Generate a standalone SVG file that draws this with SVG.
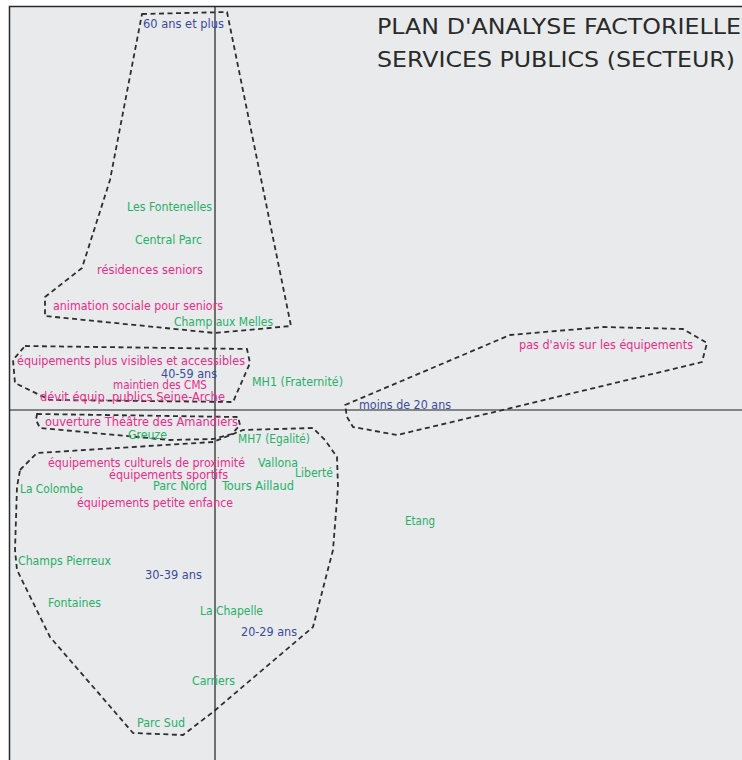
<svg xmlns="http://www.w3.org/2000/svg" width="742" height="760" viewBox="0 0 742 760">
  <style>
    .lbl { font-family: "DejaVu Sans Condensed", "DejaVu Sans", "Liberation Sans", sans-serif; font-size: 11.5px; }
    .g { fill: #27b066; }
    .p { fill: #ea2c8a; }
    .b { fill: #3b4c9e; }
    .title { font-family: "DejaVu Sans", "Liberation Sans", sans-serif; font-size: 22px; fill: #2a2a2a; }
    .zone { fill: none; stroke: #2e2e2e; stroke-width: 1.8; stroke-dasharray: 5 3.5; stroke-linejoin: round; }
    .axis { stroke: #1e1e1e; stroke-width: 1.2; }
  </style>

  <!-- page and frame -->
  <rect x="0" y="0" width="742" height="760" fill="#ffffff"/>
  <rect x="9" y="6" width="740" height="760" fill="#e8eaec"/>
  <path d="M9.5 760 V6.5 H742" fill="none" stroke="#2a2a2a" stroke-width="1.5"/>

  <!-- factorial axes -->
  <g id="axes">
    <line class="axis" x1="215" y1="6" x2="215" y2="760"/>
    <line class="axis" x1="9" y1="410" x2="742" y2="410"/>
  </g>

  <!-- title -->
  <g id="title">
    <text class="title" x="377" y="34" textLength="364" lengthAdjust="spacingAndGlyphs">PLAN D'ANALYSE FACTORIELLE</text>
    <text class="title" x="377" y="67" textLength="358" lengthAdjust="spacingAndGlyphs">SERVICES PUBLICS (SECTEUR)</text>
  </g>

  <!-- dashed groupings -->
  <g id="connectors">
    <polygon id="zone-seniors" class="zone" points="142,14 227,12 291,326 215,333 45,316 45,297 82,268 110,180"/>
    <polygon id="zone-visibles" class="zone" points="25,346 247,349 250,363 233,402 50,400 15,383 13,360"/>
    <polygon id="zone-theatre" class="zone" points="37,414 238,417 240,425 232,434 213,439 170,440 40,428 36,420"/>
    <polygon id="zone-adultes" class="zone" points="20,470 37,453 213,442 243,430 313,428 325,440 337,457 338,487 333,550 313,627 213,712 183,735 133,733 50,637 17,570 15,550 17,487"/>
    <polygon id="zone-jeunes" class="zone" points="345,405 510,335 603,327 683,329 707,343 702,362 507,409 397,435 353,427 347,417"/>
  </g>

  <!-- age classes -->
  <g id="n-60plus"><text class="lbl b" x="143" y="28" textLength="81" lengthAdjust="spacingAndGlyphs">60 ans et plus</text></g>
  <g id="n-4059"><text class="lbl b" x="161" y="378" textLength="56" lengthAdjust="spacingAndGlyphs">40-59 ans</text></g>
  <g id="n-moins20"><text class="lbl b" x="359" y="409" textLength="92" lengthAdjust="spacingAndGlyphs">moins de 20 ans</text></g>
  <g id="n-3039"><text class="lbl b" x="145" y="579" textLength="57" lengthAdjust="spacingAndGlyphs">30-39 ans</text></g>
  <g id="n-2029"><text class="lbl b" x="241" y="636" textLength="56" lengthAdjust="spacingAndGlyphs">20-29 ans</text></g>

  <!-- opinions -->
  <g id="n-residences"><text class="lbl p" x="97" y="274" textLength="106" lengthAdjust="spacingAndGlyphs">résidences seniors</text></g>
  <g id="n-animation"><text class="lbl p" x="53" y="310" textLength="170" lengthAdjust="spacingAndGlyphs">animation sociale pour seniors</text></g>
  <g id="n-visibles"><text class="lbl p" x="17" y="365" textLength="228" lengthAdjust="spacingAndGlyphs">équipements plus visibles et accessibles</text></g>
  <g id="n-cms"><text class="lbl p" x="113" y="389" textLength="94" lengthAdjust="spacingAndGlyphs">maintien des CMS</text></g>
  <g id="n-seinearche"><text class="lbl p" x="40" y="401" textLength="185" lengthAdjust="spacingAndGlyphs">dévit équip. publics Seine-Arche</text></g>
  <g id="n-pasavis"><text class="lbl p" x="519" y="349" textLength="174" lengthAdjust="spacingAndGlyphs">pas d'avis sur les équipements</text></g>
  <g id="n-theatre"><text class="lbl p" x="45" y="426" textLength="193" lengthAdjust="spacingAndGlyphs">ouverture Théâtre des Amandiers</text></g>
  <g id="n-culturels"><text class="lbl p" x="48" y="467" textLength="197" lengthAdjust="spacingAndGlyphs">équipements culturels de proximité</text></g>
  <g id="n-sportifs"><text class="lbl p" x="109" y="479" textLength="119" lengthAdjust="spacingAndGlyphs">équipements sportifs</text></g>
  <g id="n-petiteenfance"><text class="lbl p" x="77" y="507" textLength="156" lengthAdjust="spacingAndGlyphs">équipements petite enfance</text></g>

  <!-- sectors -->
  <g id="n-fontenelles"><text class="lbl g" x="127" y="211" textLength="85" lengthAdjust="spacingAndGlyphs">Les Fontenelles</text></g>
  <g id="n-centralparc"><text class="lbl g" x="135" y="244" textLength="67" lengthAdjust="spacingAndGlyphs">Central Parc</text></g>
  <g id="n-champmelles"><text class="lbl g" x="174" y="326" textLength="99" lengthAdjust="spacingAndGlyphs">Champ aux Melles</text></g>
  <g id="n-mh1"><text class="lbl g" x="252" y="386" textLength="91" lengthAdjust="spacingAndGlyphs">MH1 (Fraternité)</text></g>
  <g id="n-greuze"><text class="lbl g" x="128" y="439" textLength="39" lengthAdjust="spacingAndGlyphs">Greuze</text></g>
  <g id="n-mh7"><text class="lbl g" x="238" y="443" textLength="72" lengthAdjust="spacingAndGlyphs">MH7 (Egalité)</text></g>
  <g id="n-vallona"><text class="lbl g" x="258" y="467" textLength="40" lengthAdjust="spacingAndGlyphs">Vallona</text></g>
  <g id="n-liberte"><text class="lbl g" x="295" y="477" textLength="38" lengthAdjust="spacingAndGlyphs">Liberté</text></g>
  <g id="n-colombe"><text class="lbl g" x="20" y="493" textLength="63" lengthAdjust="spacingAndGlyphs">La Colombe</text></g>
  <g id="n-parcnord"><text class="lbl g" x="153" y="490" textLength="54" lengthAdjust="spacingAndGlyphs">Parc Nord</text></g>
  <g id="n-aillaud"><text class="lbl g" x="222" y="490" textLength="72" lengthAdjust="spacingAndGlyphs">Tours Aillaud</text></g>
  <g id="n-etang"><text class="lbl g" x="405" y="525" textLength="30" lengthAdjust="spacingAndGlyphs">Etang</text></g>
  <g id="n-pierreux"><text class="lbl g" x="18" y="565" textLength="93" lengthAdjust="spacingAndGlyphs">Champs Pierreux</text></g>
  <g id="n-fontaines"><text class="lbl g" x="48" y="607" textLength="53" lengthAdjust="spacingAndGlyphs">Fontaines</text></g>
  <g id="n-chapelle"><text class="lbl g" x="200" y="615" textLength="63" lengthAdjust="spacingAndGlyphs">La Chapelle</text></g>
  <g id="n-carriers"><text class="lbl g" x="192" y="685" textLength="43" lengthAdjust="spacingAndGlyphs">Carriers</text></g>
  <g id="n-parcsud"><text class="lbl g" x="137" y="727" textLength="48" lengthAdjust="spacingAndGlyphs">Parc Sud</text></g>
</svg>
